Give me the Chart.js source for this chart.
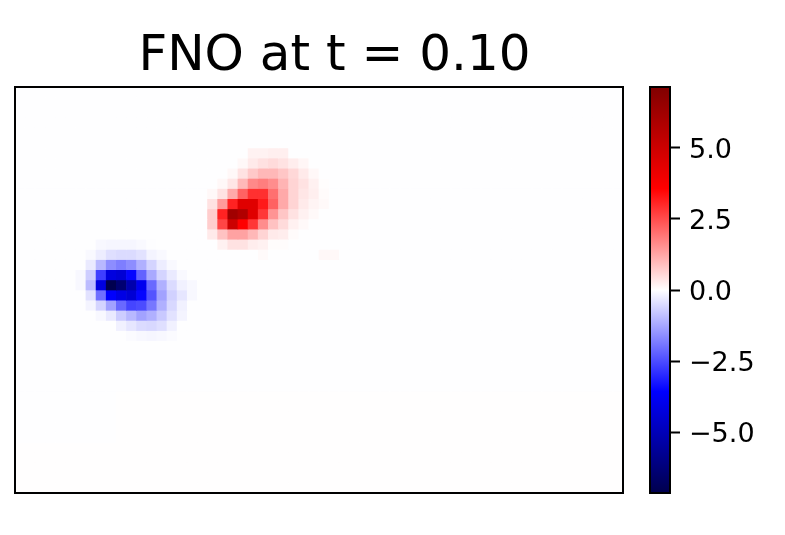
<!DOCTYPE html>
<html><head><meta charset="utf-8">
<script src="https://cdn.jsdelivr.net/npm/chart.js@4"></script>
<style>html,body{margin:0;padding:0;background:#fff;overflow:hidden}canvas{position:absolute;top:0}#f{left:0}#c{left:640px}</style>
</head><body>
<canvas id="f" width="669" height="535"></canvas>
<canvas id="c" width="145" height="535"></canvas>
<script>
const titleText = "FNO at t = 0.10";
const columnCount = 60;
const rowCount = 40;
const colorLimit = 7.14;
const colorbarTicks = [-5, -2.5, 0, 2.5, 5];
const backgroundBlocks = [
 [-.018,-.018,-.018,-.018,-.018,-.018,-.018,-.018,-.015,-.015,-.015,-.015],
 [-.018,-.012,-.015,-.018,-.012,-.018,-.018,-.018,-.015,-.012,-.012,-.012],
 [-.018,-.012,-.018,-.015,-.015,-.018,-.018,-.015,-.012,-.012,-.012,-.012],
 [-.018,-.012,-.015,-.015,-.012,-.012,-.015,-.012,-.012,-.012,-.012,-.012],
 [-.015,-.012,-.012,-.012,-.012,-.012,-.012,-.012,-.01,-.01,-.01,-.01],
 [-.012,-.012,-.012,-.012,-.01,-.01,-.01,-.01,-.01,-.01,-.01,-.01],
 [-.01,-.01,.008,.008,.008,.008,.008,.008,.008,.008,.008,.008],
 [.008,.008,.008,.008,.008,.008,.008,.008,.008,.008,.008,.008]
];
const patchRows = [6,7,8,9,10,11,12,13,14,15,16,
  15,16,17,18,19,20,21,22,23,24,16];
const patchStartColumns = [23,22,21,20,19,19,19,19,19,20,24,
  8,7,7,6,6,7,7,8,10,11,30];
const patchValues = [
 [.18,.18,.22,.22],
 [.1,.3,.42,.5,.4,.25,.12],
 [.1,.4,.75,1.0,1.0,.8,.55,.3,.1],
 [.1,.35,1.0,1.65,1.8,1.6,1.05,.6,.4,.2,.03],
 [.1,.4,1.2,2.2,2.9,2.9,2.0,1.2,.6,.35,.22,.06],
 [.4,1.4,3.1,4.45,4.45,3.2,2.2,1.2,.6,.3,.15,.08],
 [.7,3.1,6.2,5.8,4.45,2.8,1.5,.8,.4,.2,.08],
 [.7,2.6,5.0,3.6,2.8,1.6,.85,.5,.2,.08],
 [.3,.85,1.3,1.3,1.0,.6,.3,.25,.06],
 [.2,.4,.4,.25,.2,.04,.04],
 [.07],
 [-.1,-.13,-.13,-.12,-.08,-.03],
 [-.08,-.25,-.45,-.5,-.5,-.4,-.15,-.08],
 [-.3,-1.0,-1.6,-1.8,-1.6,-1.1,-.6,-.25,-.08],
 [-.1,-.7,-2.7,-4.2,-4.4,-3.5,-2.2,-1.2,-.6,-.3,-.08],
 [-.1,-.95,-4.2,-7.1,-6.4,-5.2,-3.9,-2.1,-1.1,-.5,-.2,-.1],
 [-.4,-2.0,-3.6,-4.1,-4.4,-3.5,-2.4,-1.3,-.65,-.35,-.1],
 [-.15,-.6,-1.3,-2.1,-2.6,-2.5,-1.9,-1.1,-.55,-.2],
 [-.1,-.3,-.7,-1.0,-1.3,-1.1,-.75,-.4,-.15],
 [-.2,-.35,-.5,-.55,-.45,-.2],
 [-.05,-.1,-.12,-.1,-.05],
 [.1,.1]
];
const seismicStops = [[0,0,76.5],[0,0,255],[255,255,255],[255,0,0],[128,0,0]];

function seismic(v){
  const t = Math.min(1, Math.max(0, (v + colorLimit) / (2 * colorLimit))) * 4;
  const i = Math.min(3, Math.floor(t)), f = t - i;
  const a = seismicStops[i], b = seismicStops[i + 1];
  return `rgb(${a.map((c, k) => Math.round(c + (b[k] - c) * f)).join(",")})`;
}
const grid = [];
for (let r = 0; r < rowCount; r++) {
  const row = [];
  for (let c = 0; c < columnCount; c++) row.push(backgroundBlocks[Math.floor(r / 5)][Math.floor(c / 5)]);
  grid.push(row);
}
patchRows.forEach((r, p) => patchValues[p].forEach((v, i) => { grid[r][patchStartColumns[p] + i] = v; }));

const labels = Array.from({length: columnCount}, (_, i) => i);
const datasets = grid.map((row, r) => ({
  data: row.map(() => [r, r + 1]),
  backgroundColor: row.map(seismic),
  borderWidth: 0,
  categoryPercentage: 1,
  barPercentage: 1,
  grouped: false
}));
const frame = {id: "frame", afterDraw(ch) {
  const a = ch.chartArea, c = ch.ctx;
  c.save(); c.strokeStyle = "#000"; c.lineWidth = 2;
  c.strokeRect(a.left, a.top, a.right - a.left, a.bottom - a.top);
  c.restore();
}};
const blank = {display: false};
new Chart(document.getElementById("f"), {
  type: "bar",
  data: {labels, datasets},
  plugins: [frame],
  options: {
    responsive: false, animation: false, events: [],
    layout: {padding: {left: 0, right: 0, top: 0, bottom: 42}},
    plugins: {
      legend: {display: false}, tooltip: {enabled: false},
      title: {display: true, text: titleText, color: "#000",
        font: {family: "DejaVu Sans", size: 50, weight: "normal", lineHeight: 1.2},
        padding: {top: 27, bottom: 0}}
    },
    scales: {
      x: {display: false, type: "category"},
      y: {type: "linear", min: 0, max: rowCount, reverse: true, position: "left",
        afterFit(ax) { ax.width = 15; }, ticks: blank, grid: blank, border: blank},
      edge: {type: "linear", position: "right",
        afterFit(ax) { ax.width = 46; }, ticks: blank, grid: blank, border: blank}
    }
  }
});

const cc = document.getElementById("c");
const g = cc.getContext("2d").createLinearGradient(0, 87, 0, 493);
[...seismicStops].reverse().forEach((s, i) => g.addColorStop(i / 4, `rgb(${s.join(",")})`));
new Chart(cc, {
  type: "bar",
  data: {labels: ["colorbar"], datasets: [{data: [[-colorLimit, colorLimit]], backgroundColor: g, borderWidth: 0, categoryPercentage: 1, barPercentage: 1}]},
  plugins: [frame],
  options: {
    responsive: false, animation: false, events: [],
    layout: {padding: {left: 10, right: 0, top: 87, bottom: 42}},
    plugins: {legend: {display: false}, tooltip: {enabled: false}},
    scales: {
      x: {display: false},
      y: {position: "right", min: -colorLimit, max: colorLimit,
        afterFit(ax) { ax.width = 115; },
        afterBuildTicks(ax) { ax.ticks = colorbarTicks.map(value => ({value})); },
        border: {display: false},
        grid: {drawOnChartArea: false, drawTicks: true, tickLength: 10, tickColor: "#000", tickWidth: 2},
        ticks: {color: "#000", padding: 9, labelOffset: 3, align: "center", crossAlign: "near",
          font: {family: "DejaVu Sans", size: 27},
          callback: v => v.toFixed(1).replace("-", "\u2212")}
      }
    }
  }
});
</script>
</body></html>
